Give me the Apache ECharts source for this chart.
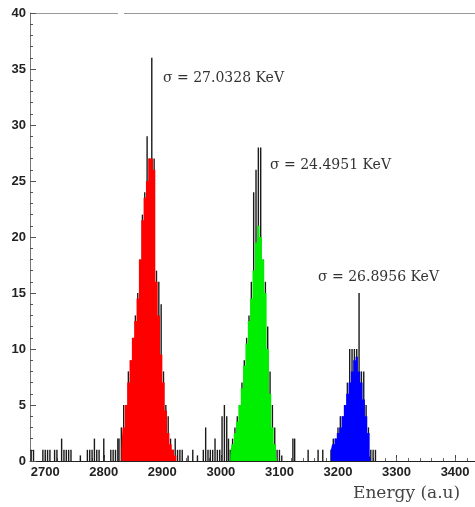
<!DOCTYPE html>
<html>
<head>
<meta charset="utf-8">
<script src="https://cdn.jsdelivr.net/npm/echarts@6.0.0/dist/echarts.min.js"></script>
<style>
  html, body { margin: 0; padding: 0; background: #fff; }
  #chart { width: 475px; height: 507px; }
</style>
</head>
<body>
<div id="chart"></div>
<script>
// bin width of the histogram (energy units)
const binWidth = 4;

// red peak
const redStart = 2830;
const redCounts = [3, 5, 5, 8, 9, 10, 13, 15, 18, 22, 24, 29, 27, 36, 27, 17, 16, 14, 8, 5, 4, 2, 1, 2, 1];
const redFill = [1, 3, 5, 7, 9, 11, 12.5, 14.5, 18, 21.5, 23.5, 25, 27, 27, 26, 16, 13, 9.5, 7, 4.5, 2.5, 1.5, 1, 0.5, 0];

// green peak
const greenStart = 3016;
const greenCounts = [1, 2, 3, 4, 5, 7, 9, 11, 13, 16, 24, 26, 28, 28, 18, 16, 12, 8, 5, 3, 1];
const greenFill = [0.5, 1.5, 2.5, 3.5, 5, 6.5, 8.5, 10.5, 12.5, 14.5, 17, 19.5, 21, 20, 18, 15, 10, 6, 3, 1.5, 0.5];

// blue peak
const blueStart = 3188;
const blueCounts = [1, 2, 2, 3, 4, 4, 5, 7, 10, 10, 10, 10, 15, 8, 8, 5, 3, 1];
const blueFill = [1, 1.5, 2, 2.5, 3, 4, 5, 6, 7, 8, 9, 9.3, 8, 7, 5.5, 4, 2.5, 0.5];

// scattered background hits [energy, count]
const bgHits = [
  [2676, 1], [2680, 1], [2696, 1], [2700, 1], [2704, 1], [2708, 1], [2716, 1], [2720, 1],
  [2728, 2], [2732, 1], [2736, 1], [2740, 1], [2744, 1], [2760, 0.5], [2772, 1], [2776, 1],
  [2780, 1], [2784, 2], [2788, 1], [2792, 1], [2800, 2], [2812, 1], [2816, 1], [2820, 1],
  [2824, 2], [2826, 2], [2930, 1], [2934, 1], [2944, 0.5], [2952, 1], [2960, 0.5],
  [2970, 1], [2974, 3], [2978, 1], [2982, 1], [2986, 1], [2990, 2], [2994, 1], [2998, 1],
  [3002, 4], [3006, 5], [3010, 4], [3013, 2], [3100, 1], [3104, 0.5], [3123, 2], [3126, 2],
  [3149, 1], [3166, 1], [3174, 1], [3260, 1], [3264, 1]
];

const xLabels = [2700, 2800, 2900, 3000, 3100, 3200, 3300, 3400];
const xMinor = [];
for (let v = 2680; v <= 3420; v += 20) xMinor.push(v);

const sigmaTexts = ['σ = 27.0328 KeV', 'σ = 24.4951 KeV', 'σ = 26.8956 KeV'];

function toPairs(start, arr) {
  return arr.map((v, i) => [start + i * binWidth, v]);
}

const allCounts = bgHits
  .concat(toPairs(redStart, redCounts))
  .concat(toPairs(greenStart, greenCounts))
  .concat(toPairs(blueStart, blueCounts));

function fillSeries(start, arr, color) {
  return {
    type: 'line',
    step: 'middle',
    data: toPairs(start, arr),
    showSymbol: false,
    symbol: 'none',
    lineStyle: { width: 0 },
    areaStyle: { color: color, opacity: 1 },
    z: 3,
    silent: true
  };
}

const labelFont = { fontFamily: 'Liberation Sans', fontWeight: 'bold', fontSize: 13, color: '#222' };
const serif = 'DejaVu Serif';

const chart = echarts.init(document.getElementById('chart'));
chart.setOption({
  animation: false,
  backgroundColor: '#fff',
  grid: { left: 30, right: 0, top: 13, bottom: 46 },
  xAxis: [{
    type: 'value',
    min: 2674,
    max: 3434,
    axisLine: { lineStyle: { color: '#222', width: 1 } },
    axisTick: { inside: true, length: 6, customValues: xLabels, lineStyle: { color: '#444' } },
    axisLabel: Object.assign({ margin: 5, customValues: xLabels, formatter: v => String(v) }, labelFont),
    splitLine: { show: false }
  }, {
    type: 'value',
    min: 2674,
    max: 3434,
    position: 'bottom',
    axisLine: { show: false },
    axisTick: { inside: true, length: 3, customValues: xMinor, lineStyle: { color: '#666' } },
    axisLabel: { show: false },
    splitLine: { show: false }
  }],
  yAxis: {
    type: 'value',
    min: 0,
    max: 40,
    interval: 5,
    axisLine: { show: true, lineStyle: { color: '#777' } },
    axisTick: { show: true, inside: true, length: 6, lineStyle: { color: '#555' } },
    minorTick: { show: true, splitNumber: 5, length: 3, lineStyle: { color: '#555' } },
    axisLabel: Object.assign({ margin: 4 }, labelFont),
    splitLine: { show: false }
  },
  graphic: [
    { type: 'line', shape: { x1: 30, y1: 13.5, x2: 118, y2: 13.5 }, style: { stroke: '#999', lineWidth: 1 } },
    { type: 'line', shape: { x1: 124, y1: 13.5, x2: 475, y2: 13.5 }, style: { stroke: '#999', lineWidth: 1 } },
    { type: 'text', left: 163, top: 71, style: { text: sigmaTexts[0], font: '14px "' + serif + '"', fill: '#333' } },
    { type: 'text', left: 270, top: 158, style: { text: sigmaTexts[1], font: '14px "' + serif + '"', fill: '#333' } },
    { type: 'text', left: 318, top: 270, style: { text: sigmaTexts[2], font: '14px "' + serif + '"', fill: '#333' } },
    { type: 'text', left: 353, top: 485, style: { text: 'Energy (a.u)', font: '17px "' + serif + '"', fill: '#444' } }
  ],
  series: [
    {
      type: 'bar',
      xAxisIndex: 0,
      data: allCounts,
      barWidth: 1.4,
      itemStyle: { color: '#1a1a1a' },
      z: 2,
      silent: true
    },
    fillSeries(redStart, redFill, '#ff0000'),
    fillSeries(greenStart, greenFill, '#00ee00'),
    fillSeries(blueStart, blueFill, '#0000ff')
  ]
});
</script>
</body>
</html>
